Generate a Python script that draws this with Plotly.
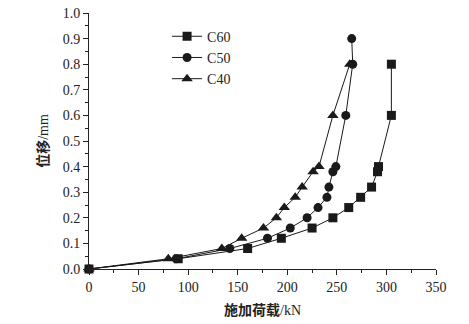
import plotly.graph_objects as go

load_c60 = [0, 90, 160, 194, 225, 246, 262, 274, 285, 291, 292, 305, 305]
disp_c60 = [0, 0.04, 0.08, 0.12, 0.16, 0.20, 0.24, 0.28, 0.32, 0.38, 0.40, 0.60, 0.80]

load_c50 = [0, 88, 142, 180, 203, 220, 231, 240, 242, 246, 249, 259, 266, 265]
disp_c50 = [0, 0.04, 0.08, 0.12, 0.16, 0.20, 0.24, 0.28, 0.32, 0.38, 0.40, 0.60, 0.80, 0.90]

load_c40 = [0, 80, 134, 154, 176, 189, 197, 208, 215, 226, 232, 246, 263]
disp_c40 = [0, 0.04, 0.08, 0.12, 0.16, 0.20, 0.24, 0.28, 0.32, 0.38, 0.40, 0.60, 0.80]

x_ticks = [0, 50, 100, 150, 200, 250, 300, 350]
y_ticks = [0.0, 0.1, 0.2, 0.3, 0.4, 0.5, 0.6, 0.7, 0.8, 0.9, 1.0]

series = [
    ("C60", load_c60, disp_c60, "square", 9),
    ("C50", load_c50, disp_c50, "circle", 9),
    ("C40", load_c40, disp_c40, "triangle-up", 10),
]

fig = go.Figure()
for name, xs, ys, sym, sz in series:
    fig.add_trace(go.Scatter(
        x=xs, y=ys, name=name, mode="lines+markers",
        line=dict(color="#1a1a1a", width=1),
        marker=dict(symbol=sym, size=sz, color="#1a1a1a"),
        cliponaxis=False,
    ))

font_main = "Liberation Serif, 'Noto Sans CJK SC', serif"
fig.update_layout(
    width=469, height=324,
    margin=dict(l=89, r=33, t=13, b=55),
    paper_bgcolor="white", plot_bgcolor="white",
    font=dict(family=font_main, size=14, color="#222"),
    showlegend=True,
    legend=dict(x=0.225, y=0.97, xanchor="left", yanchor="top",
                bgcolor="rgba(0,0,0,0)", font=dict(size=14, family=font_main),
                tracegroupgap=0, itemwidth=30),
    xaxis=dict(
        range=[0, 350], tickvals=x_ticks, showgrid=False, zeroline=False,
        showline=True, linecolor="#222", linewidth=1, automargin=False,
        ticks="outside", ticklen=5, tickcolor="#222",
        minor=dict(dtick=25, tick0=0, ticks="outside", ticklen=3, tickcolor="#222"),
        title=dict(text="<b>施加荷载</b>/kN", font=dict(size=14), standoff=11),
    ),
    yaxis=dict(
        range=[0, 1.0], tickvals=y_ticks, tickformat=".1f", showgrid=False, zeroline=False,
        showline=True, linecolor="#222", linewidth=1, automargin=False,
        ticks="outside", ticklen=5, tickcolor="#222",
        minor=dict(dtick=0.05, tick0=0, ticks="outside", ticklen=3, tickcolor="#222"),
        title=dict(text="<b>位移</b>/mm", font=dict(size=14), standoff=10),
    ),
)

fig.write_html("out.html", config={"displayModeBar": False},
               post_script="document.body.style.margin='0';")
